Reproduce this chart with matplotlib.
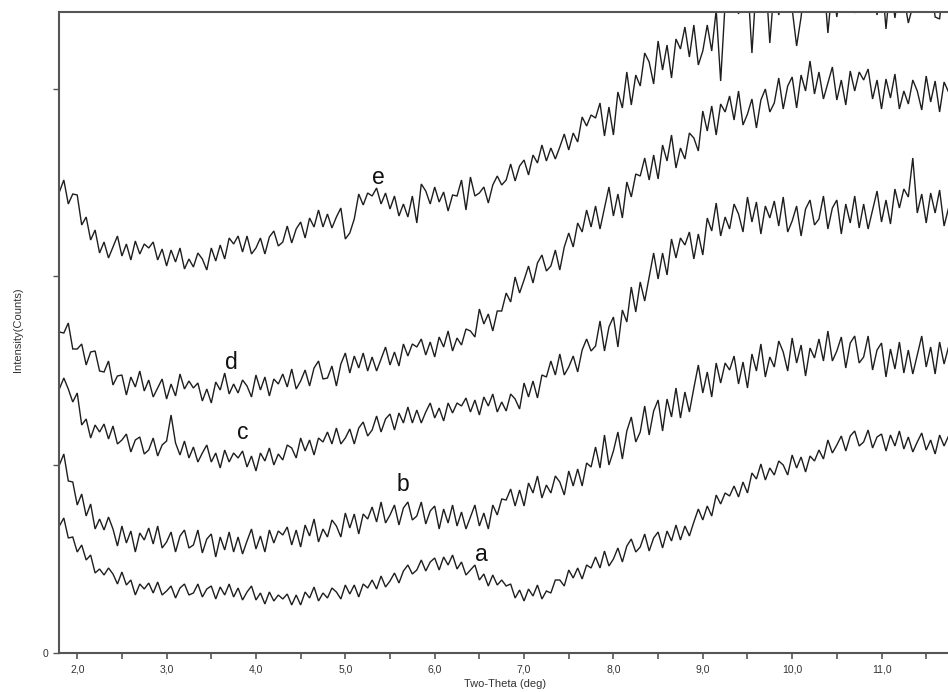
import numpy as np
import matplotlib
matplotlib.use("Agg")
import matplotlib.pyplot as plt
from matplotlib.ticker import FixedLocator, FuncFormatter

# 2-theta sampling: 1.80 .. 11.85 deg, step 0.05
two_theta_start = 1.80
two_theta_step = 0.05

curve_a = [
    127,135,115,116,101,108,93,98,80,84,
    78,85,79,69,81,68,73,58,69,64,
    70,60,71,58,62,67,55,65,69,58,
    60,69,56,64,67,54,66,58,69,56,
    65,53,61,67,53,60,49,61,52,58,
    54,59,48,58,48,61,55,66,52,60,
    55,65,61,54,68,59,68,56,69,65,
    73,64,77,66,72,80,70,82,88,79,
    83,93,82,91,95,83,96,88,98,84,
    91,78,83,88,73,79,67,78,68,73,
    67,69,55,63,52,64,57,68,54,62,
    60,73,73,67,83,75,85,74,88,85,
    96,85,102,87,94,105,91,107,114,101,
    106,119,102,115,121,105,122,112,128,113,
    127,117,131,144,133,147,137,158,149,160,
    157,167,156,171,160,180,174,189,173,185,
    178,192,188,178,198,185,196,181,197,192,
    203,194,213,200,208,217,202,217,222,207,
    211,223,205,216,219,202,218,207,222,204,
    216,201,211,220,203,213,199,218,207,217,
    214,209,
]

curve_b = [
    188,199,172,171,148,159,137,149,124,134,
    123,136,124,107,127,110,122,101,120,113,
    125,109,127,105,111,121,101,117,123,105,
    108,123,100,114,119,96,116,103,121,101,
    116,99,112,124,104,117,101,123,110,122,
    118,126,108,123,106,128,117,134,111,124,
    116,133,127,116,140,125,139,119,139,134,
    146,131,151,130,138,148,128,145,151,133,
    137,151,129,142,147,124,144,130,148,127,
    141,124,136,148,127,140,124,148,138,154,
    153,164,147,163,147,170,160,177,155,168,
    160,177,171,158,182,167,184,167,190,186,
    206,185,218,188,202,221,194,222,236,211,
    221,247,218,242,253,222,254,236,265,235,
    261,241,265,288,260,281,256,290,270,290,
    283,297,269,291,265,299,282,309,276,296,
    286,312,301,282,315,290,308,277,305,295,
    314,292,322,292,302,316,285,310,317,290,
    296,317,283,303,310,276,304,284,311,280,
    303,279,298,317,286,306,279,311,289,306,
    297,290,
]

curve_c = [
    264,275,264,251,260,228,234,215,228,221,
    229,214,227,209,213,219,201,213,216,199,
    203,215,197,208,212,238,210,198,212,195,
    206,191,200,208,191,200,185,203,191,200,
    195,202,186,197,182,200,192,205,188,199,
    193,208,205,195,215,202,213,198,215,211,
    221,209,225,209,215,224,209,225,231,217,
    223,237,221,234,239,223,240,230,246,230,
    243,230,241,250,235,245,232,250,240,250,
    247,255,241,253,238,256,247,259,241,251,
    242,259,254,244,270,256,272,255,278,276,
    292,278,299,278,286,297,281,303,314,302,
    307,332,302,326,336,306,343,331,366,341,
    371,352,376,400,374,400,378,414,395,415,
    408,421,394,419,398,435,422,450,417,436,
    424,449,439,421,456,431,451,419,447,435,
    452,427,456,421,432,447,417,444,453,428,
    434,457,424,445,453,419,449,430,457,425,
    449,424,443,462,431,453,429,464,445,464,
    456,495,440,459,430,460,440,463,427,445,
    436,447,
]

curve_d = [
    321,320,330,304,304,309,288,301,302,282,
    281,292,268,277,278,258,276,266,282,262,
    273,256,265,274,254,269,257,279,264,272,
    265,270,252,264,250,271,263,280,259,269,
    260,273,267,256,278,263,276,257,274,269,
    279,266,284,264,272,283,267,285,292,274,
    275,287,267,289,300,280,297,285,300,282,
    296,282,294,306,288,301,287,309,297,309,
    306,314,298,311,296,316,306,322,302,315,
    308,324,322,316,344,329,339,322,342,342,
    360,351,376,360,373,387,370,390,398,382,
    387,403,383,406,420,406,430,421,443,426,
    447,424,445,466,437,459,435,471,456,479,
    477,495,473,498,474,508,492,518,485,505,
    494,520,515,502,542,522,547,518,549,541,
    557,533,562,528,539,554,525,553,564,541,
    550,575,544,567,576,545,578,562,592,559,
    581,554,570,586,553,573,548,582,562,581,
    573,584,554,573,544,574,555,579,544,562,
    549,573,562,543,577,551,572,541,571,561,
    575,553,
]

curve_e = [
    461,473,449,459,458,428,436,413,423,400,
    411,395,406,417,397,409,393,412,399,409,
    405,411,393,404,387,403,391,405,384,394,
    386,400,394,383,405,392,408,394,415,409,
    417,401,417,399,405,415,399,416,422,407,
    411,427,410,424,431,415,435,426,443,426,
    439,425,436,445,414,420,434,459,448,460,
    457,465,449,460,444,457,437,449,436,457,
    430,469,462,449,466,451,461,442,458,457,
    473,443,476,457,460,466,450,468,477,468,
    473,489,472,487,493,478,498,490,508,492,
    505,494,506,519,503,520,511,536,527,538,
    535,550,517,546,518,561,545,581,548,578,
    567,600,591,569,612,583,608,575,614,604,
    626,596,628,588,602,628,602,643,572,650,
    647,677,639,665,674,600,671,647,680,610,
    667,638,660,681,644,607,636,676,651,672,
    663,678,620,669,636,674,653,681,640,662,
    645,674,662,638,680,624,672,635,669,656,
    630,647,681,642,654,672,636,634,678,645,
    660,640,
]

curve_names = ["a", "b", "c", "d", "e"]
label_x = [6.52, 5.65, 3.85, 3.73, 5.37]
label_y = [92, 162, 214, 284, 469]

x_tick_values = [2, 3, 4, 5, 6, 7, 8, 9, 10, 11]
y_tick_values = [0, 188, 377, 564]

curves = [curve_a, curve_b, curve_c, curve_d, curve_e]

fig = plt.figure(figsize=(9.48, 6.92), dpi=100)
ax = fig.add_axes([59/948, 1 - 653/692, 1 - 59/948 + 0.01, (653 - 12)/692])

for ys in curves:
    xs = two_theta_start + two_theta_step * np.arange(len(ys))
    ax.plot(xs, ys, color="#1e1e1e", lw=1.0, solid_joinstyle="miter")

for name, lx, ly in zip(curve_names, label_x, label_y):
    ax.text(lx, ly, name, fontsize=16.5, family="Liberation Sans",
            ha="center", va="baseline", color="#111111")

ax.set_xlim(1.796, 11.85)
ax.set_ylim(0, 641)

ax.xaxis.set_major_locator(FixedLocator(x_tick_values))
ax.xaxis.set_minor_locator(FixedLocator([v + 0.5 for v in x_tick_values]))
ax.xaxis.set_major_formatter(FuncFormatter(lambda v, p: f"{v:.1f}".replace(".", ",")))
ax.yaxis.set_major_locator(FixedLocator(y_tick_values))
ax.yaxis.set_major_formatter(FuncFormatter(lambda v, p: "0" if v == 0 else ""))

ax.tick_params(axis="x", which="both", direction="out", length=4, width=1.2,
               color="#555555", labelsize=7.5, labelcolor="#333333", pad=4)
ax.tick_params(axis="y", which="major", direction="out", length=4, width=1.0,
               color="#555555", labelsize=7.5, labelcolor="#333333", pad=4)
for lab in ax.get_xticklabels() + ax.get_yticklabels():
    lab.set_family("Liberation Sans")

for s in ["left", "bottom", "top"]:
    ax.spines[s].set_color("#555555")
    ax.spines[s].set_linewidth(1.5)
ax.spines["right"].set_visible(False)

fig.text(505/948, 1 - 684/692, "Two-Theta (deg)", ha="center", va="center",
         fontsize=8, family="Liberation Sans", color="#333333")
fig.text(18/948, 1 - 330/692, "Intensity(Counts)", ha="center", va="center",
         rotation=90, fontsize=8, family="Liberation Sans", color="#333333")

fig.savefig("out.png", dpi=100)
